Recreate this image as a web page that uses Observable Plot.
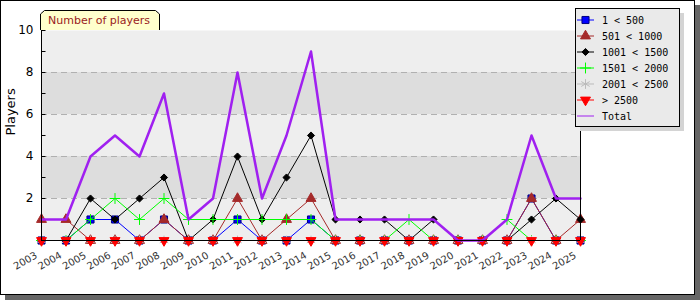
<!DOCTYPE html>
<html><head><meta charset="utf-8">
<script src="https://cdn.jsdelivr.net/npm/d3@7"></script>
<script src="https://cdn.jsdelivr.net/npm/@observablehq/plot@0.6"></script>
<style>
html,body{margin:0;padding:0;background:#fff;}
#wrap{position:relative;width:700px;height:300px;overflow:hidden;}
#frame{position:absolute;left:0;top:0;width:693px;height:293px;border:1px solid #000;box-shadow:5px 5px 0 #666;background:#fff;}
#chart{position:absolute;left:0;top:0;}
</style></head><body>
<div id="wrap"><div id="frame"></div><div id="chart"></div></div>
<script>
const years = [2003, 2004, 2005, 2006, 2007, 2008, 2009, 2010, 2011, 2012, 2013, 2014, 2015, 2016, 2017, 2018, 2019, 2020, 2021, 2022, 2023, 2024, 2025];
const seriesNames = ["1 < 500", "501 < 1000", "1001 < 1500", "1501 < 2000", "2001 < 2500", "> 2500", "Total"];
const lt500    = [0, 0, 1, 1, 0, 1, 0, 0, 1, 0, 0, 1, 0, 0, 0, 0, 0, 0, 0, 0, 2, 0, 0];
const lt1000   = [1, 1, 0, 0, 0, 1, 0, 0, 2, 0, 1, 2, 0, 0, 0, 0, 0, 0, 0, 0, 2, 0, 1];
const lt1500   = [0, 0, 2, 1, 2, 3, 0, 1, 4, 1, 3, 5, 1, 1, 1, 0, 1, 0, 0, 0, 1, 2, 1];
const lt2000   = [0, 0, 1, 2, 1, 2, 1, 1, 1, 1, 1, 1, 0, 0, 0, 1, 0, 0, 0, 1, 0, 0, 0];
const lt2500   = [0, 0, 0, 0, 0, 0, 0, 0, 0, 0, 0, 0, 0, 0, 0, 0, 0, 0, 0, 0, 0, 0, 0];
const gt2500   = [0, 0, 0, 0, 0, 0, 0, 0, 0, 0, 0, 0, 0, 0, 0, 0, 0, 0, 0, 0, 0, 0, 0];
const total    = [1, 1, 4, 5, 4, 7, 1, 2, 8, 2, 5, 9, 1, 1, 1, 1, 1, 0, 0, 1, 5, 2, 2];
const yLabelTicks = [2, 4, 6, 8, 10];
const yAllTicks = [1, 2, 3, 4, 5, 6, 7, 8, 9, 10];
const gridTicks = [2, 4, 6, 8];
const darkBands = [2, 6];
const titleText = "Number of players";
const yTitle = "Players";

const seriesValues = [lt500, lt1000, lt1500, lt2000, lt2500, gt2500];
const styles = [
  {symbol: "square", r: 4, fill: "#0000ff", stroke: "#000080", line: "#0000ff"},
  {symbol: "triangle", r: 3.7, fill: "#a52a2a", stroke: "#a52a2a", line: "#a52a2a"},
  {symbol: "diamond2", r: 3.2, fill: "#000000", stroke: "#000000", line: "#000000"},
  {symbol: "plus", r: 3.6, fill: "none", stroke: "#00ff00", line: "#00ff00"},
  {symbol: "asterisk", r: 4.6, fill: "none", stroke: "#bbbbbb", line: "#bbbbbb"},
  {symbol: "triangle", r: 3.7, fill: "#ff0000", stroke: "#ff0000", line: "#ff0000", rotate: 180}
];
const totalColor = "#a020f0";

const rows = years.map((year, i) => {
  const o = {year, total: total[i]};
  seriesValues.forEach((arr, k) => o["s" + k] = arr[i]);
  return o;
});

const seriesMarks = [];
styles.forEach((st, k) => {
  seriesMarks.push(Plot.line(rows, {x: "year", y: "s" + k, stroke: st.line, strokeWidth: 1}));
  seriesMarks.push(Plot.dot(rows, {x: "year", y: "s" + k, symbol: st.symbol, r: st.r, fill: st.fill, stroke: st.stroke, strokeWidth: 1, rotate: st.rotate || 0}));
});

// inward tick glyph for the y axis
const inwardTick = {draw(ctx) { ctx.moveTo(0, 0); ctx.lineTo(4, 0); }};

const chart = Plot.plot({
  width: 700, height: 300,
  marginLeft: 41, marginRight: 120, marginTop: 30, marginBottom: 60,
  style: {background: "transparent", fontFamily: "DejaVu Sans", overflow: "visible", color: "#000"},
  x: {domain: [years[0], years[years.length - 1]]},
  y: {domain: [0, 10]},
  marks: [
    Plot.frame({fill: "#eeeeee", stroke: null}),
    Plot.rect(darkBands, {x1: () => years[0], x2: () => years[years.length - 1], y1: d => d, y2: d => d + 2, fill: "#dddddd"}),
    Plot.ruleY(gridTicks, {stroke: "#b0b0b0", strokeDasharray: "6,4"}),
    Plot.dot(yAllTicks, {x: () => years[0], y: d => d, symbol: inwardTick, stroke: "#000", fill: "none", strokeWidth: 1}),
    Plot.axisY(yLabelTicks, {tickSize: 0, tickPadding: 8, fontSize: 12, label: null}),
    Plot.axisX(years, {tickRotate: -30, tickSize: 0, tickPadding: 14, dx: -5, fontSize: 10, fill: "#333", tickFormat: d => String(d), label: null}),
    Plot.text([yTitle], {frameAnchor: "left", dx: -31, rotate: -90, fontSize: 13, text: d => d}),
    ...seriesMarks,
    Plot.line(rows, {x: "year", y: "total", stroke: totalColor, strokeWidth: 2.5}),
    Plot.ruleX([years[0], years[years.length - 1]], {stroke: "#000"}),
    Plot.ruleY([0], {stroke: "#000"})
  ]
});
document.getElementById("chart").appendChild(chart);

// title tab
const svg = d3.select(chart);
const tab = svg.append("g").attr("text-anchor", "start");
tab.append("path").attr("d", "M40.5,30 V14 L44.5,10.5 H155.5 L159.5,14 V30").attr("fill", "#ffffcc").attr("stroke", "#000");
tab.append("text").attr("x", 48).attr("y", 24).attr("font-size", 11).attr("font-family", "DejaVu Sans").attr("fill", "#992222").text(titleText);

// legend
const lg = svg.append("g").attr("text-anchor", "start");
lg.append("rect").attr("x", 580).attr("y", 13).attr("width", 104).attr("height", 118).attr("fill", "#d4d4d4");
lg.append("rect").attr("x", 575.5).attr("y", 8.5).attr("width", 104).attr("height", 118).attr("fill", "#eaeaea").attr("stroke", "#000");
const symMap = {square: d3.symbolSquare, triangle: d3.symbolTriangle, diamond2: d3.symbolDiamond2, plus: d3.symbolPlus, asterisk: d3.symbolAsterisk};
seriesNames.forEach((name, i) => {
  const cy = 20 + 16 * i;
  if (i < styles.length) {
    const st = styles[i];
    lg.append("line").attr("x1", 577).attr("x2", 594).attr("y1", cy).attr("y2", cy).attr("stroke", st.line);
    lg.append("path").attr("d", d3.symbol(symMap[st.symbol], st.r * st.r * Math.PI)())
      .attr("transform", `translate(585.5,${cy}) rotate(${st.rotate || 0})`)
      .attr("fill", st.fill).attr("stroke", st.stroke);
  } else {
    lg.append("line").attr("x1", 577).attr("x2", 594).attr("y1", cy).attr("y2", cy).attr("stroke", totalColor);
  }
  lg.append("text").attr("x", 602).attr("y", cy + 3.5).attr("font-size", 10).attr("font-family", "DejaVu Sans Mono").attr("fill", "#000").text(name);
});
</script>
</body></html>
